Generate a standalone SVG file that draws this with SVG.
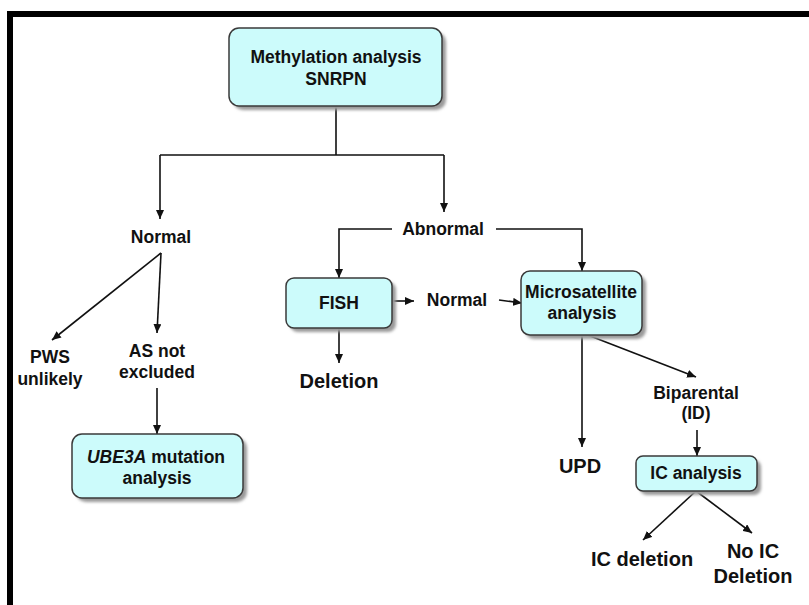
<svg xmlns="http://www.w3.org/2000/svg" width="809" height="605" viewBox="0 0 809 605">
<defs>
<marker id="ah" markerWidth="9" markerHeight="8" refX="9" refY="4" orient="auto" markerUnits="userSpaceOnUse">
<path d="M0,0 L9,4 L0,8 z" fill="#111"/>
</marker>
<filter id="sh" x="-10%" y="-10%" width="130%" height="140%">
<feGaussianBlur stdDeviation="1.5"/>
</filter>
</defs>
<style>
.box{fill:#ccfbfb;stroke:#3a3a3a;stroke-width:1.5}
.shadow{fill:#9a9a9a;filter:url(#sh)}
.t{font-family:"Liberation Sans",Arial,sans-serif;font-weight:bold;font-size:17.5px;fill:#111;text-anchor:middle}
.big{font-size:20px}
.c{fill:none;stroke:#111;stroke-width:1.6}
.a{marker-end:url(#ah)}
</style>
<rect x="0" y="0" width="809" height="605" fill="#fff"/>
<rect x="7" y="11" width="802" height="6" fill="#000"/>
<rect x="7" y="11" width="6" height="594" fill="#000"/>

<g id="connectors">
<path class="c" d="M336,106 V155 M160,155 H444"/>
<path class="c a" d="M160,155 V219"/>
<path class="c a" d="M444,155 V212"/>
<path class="c a" d="M392,229 H339 V278"/>
<path class="c a" d="M496,229 H582 V271"/>
<path class="c a" d="M339,328 V363"/>
<path class="c a" d="M393,301 H414"/>
<path class="c a" d="M499,300 L522,303"/>
<path class="c a" d="M582,335 V447"/>
<path class="c a" d="M585,334 L696,377"/>
<path class="c a" d="M697,430 V456"/>
<path class="c a" d="M696,491 L643,540"/>
<path class="c a" d="M696,491 L752,533"/>
<path class="c a" d="M161,253 L52,340"/>
<path class="c a" d="M161,253 L157,333"/>
<path class="c a" d="M157,388 V434"/>
</g>

<g id="methylation">
<rect class="shadow" x="233" y="32" width="213" height="78" rx="10"/>
<rect class="box" x="229" y="28" width="213" height="78" rx="10"/>
<text class="t" x="336" y="63">Methylation analysis</text>
<text class="t" x="336" y="85">SNRPN</text>
</g>

<g id="normal1"><text class="t" x="161" y="243">Normal</text></g>
<g id="abnormal"><text class="t" x="443" y="235">Abnormal</text></g>

<g id="pws">
<text class="t" x="50" y="363">PWS</text>
<text class="t" x="50" y="385">unlikely</text>
</g>
<g id="asnot">
<text class="t" x="157" y="357">AS not</text>
<text class="t" x="157" y="378">excluded</text>
</g>

<g id="ube3a">
<rect class="shadow" x="76" y="438" width="171" height="64" rx="10"/>
<rect class="box" x="72" y="434" width="171" height="64" rx="10"/>
<text class="t" x="156" y="463"><tspan font-style="italic">UBE3A</tspan> mutation</text>
<text class="t" x="157" y="484">analysis</text>
</g>

<g id="fish">
<rect class="shadow" x="290" y="282" width="106" height="50" rx="8"/>
<rect class="box" x="286" y="278" width="106" height="50" rx="8"/>
<text class="t" x="339" y="309">FISH</text>
</g>

<g id="deletion"><text class="t big" x="339" y="388">Deletion</text></g>
<g id="normal2"><text class="t" x="457" y="306">Normal</text></g>

<g id="microsatellite">
<rect class="shadow" x="525" y="275" width="121" height="64" rx="9"/>
<rect class="box" x="521" y="271" width="121" height="64" rx="9"/>
<text class="t" x="581" y="298">Microsatellite</text>
<text class="t" x="582" y="319">analysis</text>
</g>

<g id="upd"><text class="t big" x="580" y="473">UPD</text></g>

<g id="biparental">
<text class="t" x="696" y="399">Biparental</text>
<text class="t" x="696" y="419">(ID)</text>
</g>

<g id="icanalysis">
<rect class="shadow" x="640" y="460" width="121" height="35" rx="7"/>
<rect class="box" x="636" y="456" width="121" height="35" rx="7"/>
<text class="t" x="696" y="479">IC analysis</text>
</g>

<g id="icdeletion"><text class="t big" x="642" y="566">IC deletion</text></g>
<g id="noicdeletion">
<text class="t big" x="753" y="558">No IC</text>
<text class="t big" x="753" y="583">Deletion</text>
</g>
</svg>
